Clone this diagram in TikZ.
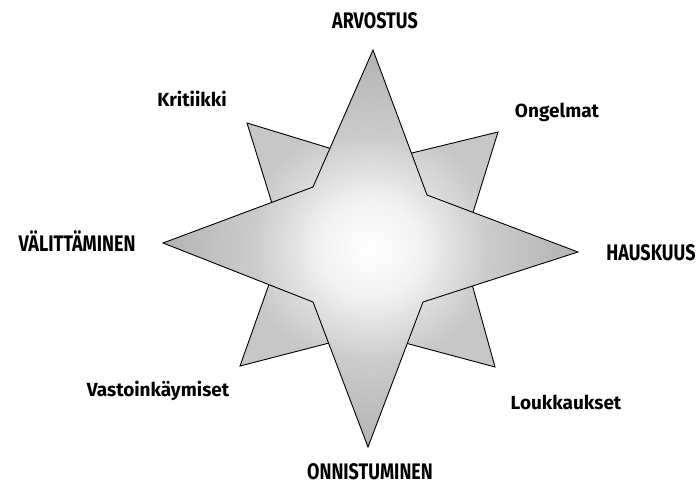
\documentclass[tikz,border=0pt]{standalone}
\usepackage{fontspec}
\setsansfont{Fira Sans}
\newfontfamily\capsfont[FakeStretch=0.80]{Fira Sans}
\usetikzlibrary{positioning}

\pgfdeclareradialshading{frontshade}{\pgfpoint{0bp}{0bp}}{%
  color(0bp)=(white); color(6bp)=(white!95!black); color(14bp)=(white!80!black);
  color(25bp)=(white!70!black); color(50bp)=(white!70!black)}
\pgfdeclareradialshading{backshade}{\pgfpoint{0bp}{0bp}}{%
  color(0bp)=(white); color(12bp)=(white!90!black);
  color(25bp)=(white!78!black); color(50bp)=(white!78!black)}

\begin{document}
\begin{tikzpicture}[x=1pt, y=-1pt,
star/.style={draw=black, line width=0.9pt, line join=miter},
caplabel/.style={font=\capsfont\bfseries\fontsize{22.5}{26}\selectfont, anchor=base},
smalllabel/.style={font=\sffamily\bfseries\fontsize{19}{22}\selectfont}
]
\useasboundingbox (0,0) rectangle (700,484);

% diagonal points behind
\shade[star, shading=backshade]
  (247,123) -- (375,162) -- (498,132) -- (462,248) -- (495,367)
  -- (368,333) -- (240,366) -- (284,242) -- cycle;

% main points in front
\shade[star, shading=frontshade]
  (373,50) -- (427,195) -- (578,252) -- (423,302) -- (368,447)
  -- (313,302) -- (163,243) -- (313,187) -- cycle;

% labels
\node[caplabel] (arvostus) at (375,29) {ARVOSTUS};
\node[caplabel] (hauskuus) at (651,260) {HAUSKUUS};
\node[caplabel] (onnistuminen) at (370,479) {ONNISTUMINEN};
\node[caplabel] (valittaminen) at (77,251) {VÄLITTÄMINEN};
\node[smalllabel] (kritiikki) at (192,99) {Kritiikki};
\node[smalllabel] (ongelmat) at (557,112) {Ongelmat};
\node[smalllabel] (loukkaukset) at (566,402) {Loukkaukset};
\node[smalllabel] (vastoin) at (158,391) {Vastoinkäymiset};
\end{tikzpicture}
\end{document}
